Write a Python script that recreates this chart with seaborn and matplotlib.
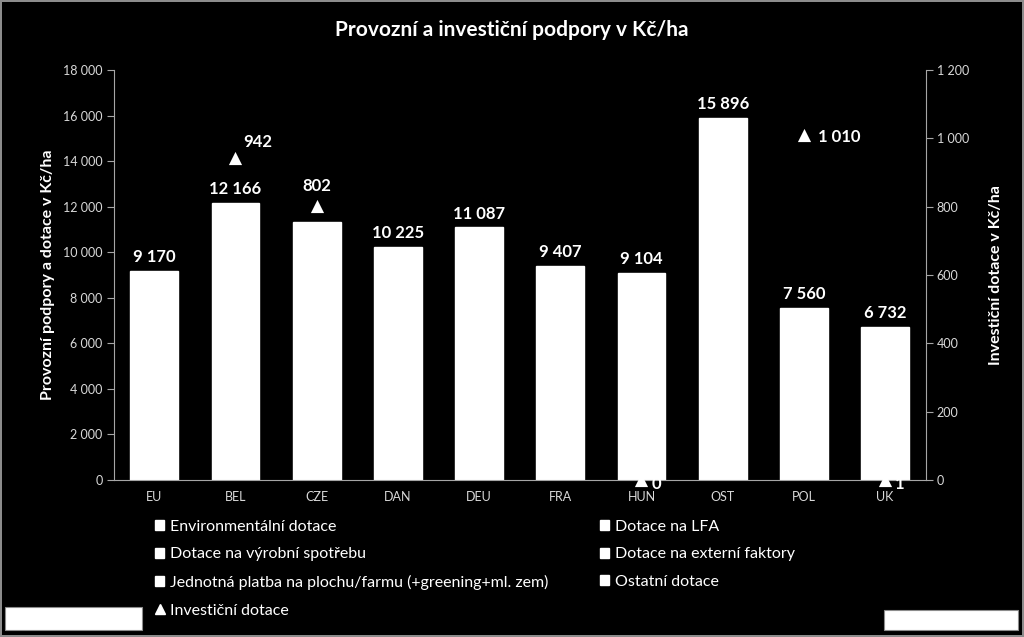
import numpy as np
import pandas as pd
import matplotlib
matplotlib.use('Agg')
import matplotlib.pyplot as plt
import seaborn as sns
from matplotlib.patches import Patch, Rectangle
from matplotlib.lines import Line2D

sns.set_style('dark')
plt.rcParams['font.family'] = ['Lato', 'DejaVu Sans']

# --- Data ---
zeme = ['EU', 'BEL', 'CZE', 'DAN', 'DEU', 'FRA', 'HUN', 'OST', 'POL', 'UK']
provozni_celkem = [9170, 12166, 11310, 10225, 11087, 9407, 9104, 15896, 7560, 6732]
# popisek u CZE v originale chybi
popisky_celkem = ['9 170', '12 166', '', '10 225', '11 087', '9 407', '9 104',
                  '15 896', '7 560', '6 732']
investicni = [np.nan, 942, 802, np.nan, np.nan, np.nan, 0, np.nan, 1010, 1]
kategorie = ['Environmentální dotace', 'Dotace na výrobní spotřebu',
             'Jednotná platba na plochu/farmu (+greening+ml. zem)',
             'Dotace na LFA', 'Dotace na externí faktory', 'Ostatní dotace']
osa_y1 = [0, 2000, 4000, 6000, 8000, 10000, 12000, 14000, 16000, 18000]
osa_y2 = [0, 200, 400, 600, 800, 1000, 1200]

BG = 'black'
FG = 'white'
TICK = '#d9d9d9'


def fmt(v):
    return f"{v:,.0f}".replace(",", " ")


df = pd.DataFrame({'zeme': zeme, 'celkem': provozni_celkem,
                   'popisek': popisky_celkem, 'inv': investicni})
df['pos'] = np.arange(len(df))

fig = plt.figure(figsize=(10.24, 6.37), dpi=100, facecolor=BG,
                 edgecolor='#8c8c8c', linewidth=1.5)
ax = fig.add_axes([0.111, 0.2465, 0.793, 0.6435])
ax.set_facecolor(BG)

sns.barplot(data=df, x='pos', y='celkem', color=FG, width=0.59,
            saturation=1, ax=ax, native_scale=True, edgecolor=FG)
ax.set_xlim(-0.5, len(zeme) - 0.5)
ax.set_ylim(0, 18000)
ax.set_yticks(osa_y1)
ax.set_yticklabels([fmt(v) for v in osa_y1], color=TICK, fontsize=9)
ax.set_xticks(df['pos'])
ax.set_xticklabels(zeme, color=TICK, fontsize=9)
ax.set_xticks(np.arange(len(zeme) + 1) - 0.5, minor=True)
ax.tick_params(axis='x', which='major', length=0, pad=8)
ax.tick_params(axis='x', which='minor', length=5, color='#a6a6a6', direction='out')
ax.tick_params(axis='y', length=5, color='#a6a6a6', direction='out', pad=3)
ax.set_xlabel('')
ax.set_ylabel('Provozní podpory a dotace v Kč/ha', color=FG, fontsize=11.5,
              fontweight='bold', labelpad=6)
ax.grid(False)
for s in ['left', 'bottom']:
    ax.spines[s].set_visible(True)
    ax.spines[s].set_color('#a6a6a6')
for s in ['top', 'right']:
    ax.spines[s].set_visible(False)

for p, v, t in zip(df['pos'], df['celkem'], df['popisek']):
    ax.text(p, v + 250, t, ha='center', va='bottom', color=FG,
            fontsize=12, fontweight='bold')

# sekundarni osa - investicni dotace
ax2 = ax.twinx()
ax2.set_ylim(0, 1200)
ax2.set_yticks(osa_y2)
ax2.set_yticklabels([fmt(v) for v in osa_y2], color=TICK, fontsize=9)
ax2.tick_params(axis='y', length=5, color='#a6a6a6', direction='out', pad=3)
ax2.set_ylabel('Investiční dotace v Kč/ha', color=FG, fontsize=11.5,
               fontweight='bold', labelpad=14)
ax2.grid(False)
for s in ['left', 'top', 'bottom']:
    ax2.spines[s].set_visible(False)
ax2.spines['right'].set_visible(True)
ax2.spines['right'].set_color('#a6a6a6')

inv = df.dropna(subset=['inv'])
sns.scatterplot(data=inv, x='pos', y='inv', marker='^', color=FG, s=90,
                edgecolor=FG, linewidth=0, ax=ax2, zorder=5, clip_on=False)
ax2.set_xlim(-0.5, len(zeme) - 0.5)
ax2.set_xlabel('')

# posuny popisku (px) podle bodu
posuny = {'BEL': (8, 8), 'CZE': (0, 12), 'HUN': (10, -4), 'POL': (14, -2), 'UK': (10, -4)}
for _, r in inv.iterrows():
    dx, dy = posuny.get(r['zeme'], (0, 10))
    ha = 'center' if dx == 0 else 'left'
    va = 'bottom' if dy > 4 else 'center'
    ax2.annotate(fmt(r['inv']), (r['pos'], r['inv']), xytext=(dx, dy),
                 textcoords='offset pixels', ha=ha, va=va, color=FG,
                 fontsize=12, fontweight='bold')

fig.text(0.5, 0.953, 'Provozní a investiční podpory v Kč/ha', ha='center',
         va='center', color=FG, fontsize=15, fontweight='bold')

# legenda
h = [Patch(facecolor=FG, edgecolor=FG, label=k) for k in kategorie]
h.insert(3, Line2D([], [], marker='^', color=FG, linestyle='none',
                   markersize=7, label='Investiční dotace'))
leg = fig.legend(handles=h, ncol=2, loc='upper left',
                 bbox_to_anchor=(0.145, 0.194), frameon=False, fontsize=11.5,
                 labelcolor=FG, handlelength=0.6, handleheight=0.6,
                 handletextpad=0.35, labelspacing=0.85, columnspacing=3.2,
                 borderaxespad=0)

# bile obdelniky v rozich
fig.patches.append(Rectangle((5 / 1024, 7 / 637), 137 / 1024, 23 / 637,
                             transform=fig.transFigure, facecolor=FG,
                             edgecolor='#8c8c8c', linewidth=0.8))
fig.patches.append(Rectangle((884 / 1024, 7 / 637), 134 / 1024, 20 / 637,
                             transform=fig.transFigure, facecolor=FG,
                             edgecolor='#8c8c8c', linewidth=0.8))

fig.savefig('out.png', dpi=100, facecolor=BG, edgecolor=fig.get_edgecolor())
